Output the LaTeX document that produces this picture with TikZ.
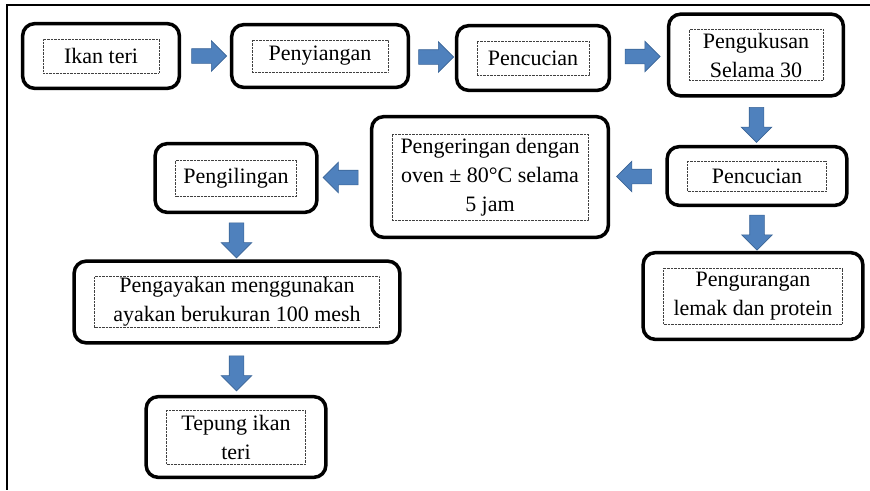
\documentclass[tikz,border=0pt]{standalone}
\usepackage{fontspec}
\setmainfont{Liberation Serif}
\usetikzlibrary{positioning,fit,shapes.arrows}
\definecolor{flowblue}{HTML}{4F81BD}
\definecolor{flowedge}{HTML}{3A6496}

\begin{document}
\begin{tikzpicture}[
    x=1pt, y=-1pt,
    % Node styles
    textbox/.style={
        rectangle,
        draw=black!75,
        line width=0.7pt,
        dash pattern=on 0.7pt off 0.7pt,
        inner sep=1pt,
        align=center,
        font=\fontsize{22}{29}\selectfont
    },
    stepframe/.style={
        rectangle,
        rounded corners=12pt,
        draw=black,
        line width=3.5pt,
        inner xsep=20pt,
        inner ysep=15pt
    },
    blockarrow/.style={
        single arrow,
        single arrow head extend=8pt,
        minimum height=35pt,
        minimum width=30pt,
        inner sep=0pt,
        inner ysep=7pt,
        fill=flowblue,
        draw=flowedge,
        line width=0.6pt,
        rotate=#1
    },
    blockarrow/.default=0
]

\useasboundingbox (0,0) rectangle (870,490);

% ===== Page frame =====

\draw[line width=2pt] (870,5) -- (7,5) -- (7,490);

% ===== Text boxes =====

\node[textbox, minimum width=116pt, minimum height=34pt] (ikan) at (101,56) {Ikan teri};
\node[textbox, minimum width=136pt, minimum height=32pt] (siang) at (320,56) {Penyiangan};
\node[textbox, minimum width=112pt, minimum height=34pt] (cuci) at (533,58) {Pencucian};
\node[textbox, minimum width=134pt, minimum height=51pt] (kukus) at (756,55) {Pengukusan\\Selama 30};
\node[textbox, minimum width=139pt, minimum height=30pt] (cucidua) at (757,176) {Pencucian};
\node[textbox, minimum width=196pt, minimum height=86pt] (kering) at (490,177) {Pengeringan dengan\\oven ± 80°C selama\\5 jam};
\node[textbox, minimum width=121pt, minimum height=36pt] (giling) at (236,178) {Pengilingan};
\node[textbox, minimum width=285pt, minimum height=51pt] (ayak) at (237,302) {Pengayakan menggunakan\\ayakan berukuran 100 mesh};
\node[textbox, minimum width=139pt, minimum height=54pt] (tepung) at (236,437) {Tepung ikan\\teri};
\node[textbox, minimum width=179pt, minimum height=56pt] (kurang) at (753,296) {Pengurangan\\lemak dan protein};

% ===== Rounded frames =====

\node[stepframe, fit=(ikan)] (ikanbox) {};
\node[stepframe, fit=(siang)] (siangbox) {};
\node[stepframe, fit=(cuci)] (cucibox) {};
\node[stepframe, fit=(kukus)] (kukusbox) {};
\node[stepframe, fit=(cucidua), inner ysep=14pt] (cuciduabox) {};
\node[stepframe, fit=(kering), inner ysep=17pt] (keringbox) {};
\node[stepframe, fit=(giling), inner ysep=16pt] (gilingbox) {};
\node[stepframe, fit=(ayak)] (ayakbox) {};
\node[stepframe, fit=(tepung), inner ysep=13pt] (tepungbox) {};
\node[stepframe, fit=(kurang), inner ysep=15pt] (kurangbox) {};

% ===== Block arrows =====

\path (ikanbox.east) -- node[blockarrow] {} (siangbox.west);
\path (siangbox.east) -- node[blockarrow] {} (cucibox.west);
\path (cucibox.east) -- node[blockarrow] {} (kukusbox.west);
\path (kukusbox.south) -- node[blockarrow=-90] {} (cuciduabox.north);
\path (cuciduabox.west) -- node[blockarrow=180] {} (keringbox.east);
\path (keringbox.west) -- node[blockarrow=180] {} (gilingbox.east);
\path (gilingbox.south) -- node[blockarrow=-90] {} (ayakbox.north);
\path (ayakbox.south) -- node[blockarrow=-90] {} (tepungbox.north);
\path (cuciduabox.south) -- node[blockarrow=-90] {} (cuciduabox.south |- kurangbox.north);

\end{tikzpicture}
\end{document}
